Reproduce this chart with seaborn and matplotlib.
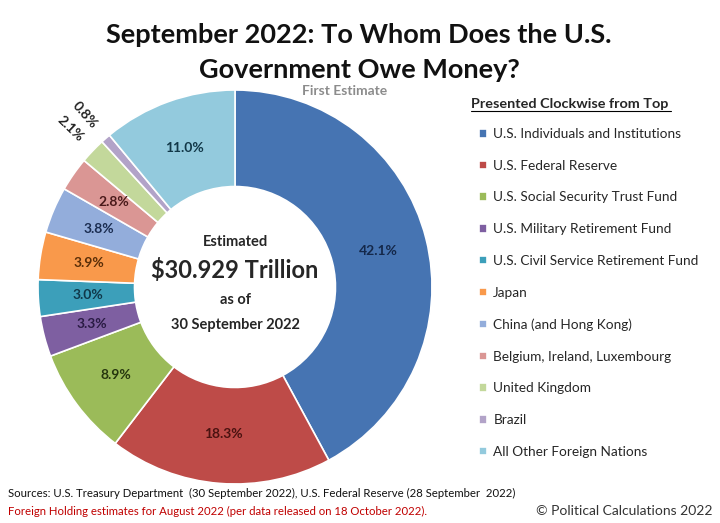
import matplotlib
matplotlib.use("Agg")
import matplotlib.pyplot as plt
from matplotlib.lines import Line2D
import numpy as np
import seaborn as sns

# Data (percent of total public debt)
holders = ["U.S. Individuals and Institutions", "U.S. Federal Reserve",
           "U.S. Social Security Trust Fund", "U.S. Military Retirement Fund",
           "U.S. Civil Service Retirement Fund", "Japan", "China (and Hong Kong)",
           "Belgium, Ireland, Luxembourg", "United Kingdom", "Brazil",
           "All Other Foreign Nations"]
shares = [42.1, 18.3, 8.9, 3.3, 3.0, 3.9, 3.8, 2.8, 2.1, 0.8, 11.0]
slice_colors = ["#4674B2", "#BE4B48", "#9BBB59", "#7E5FA1", "#3C9FBA", "#F9994B",
                "#93ADDB", "#DA9694", "#C3D89B", "#B2A3C8", "#93CADD"]
label_colors = ["#14284A", "#4A1210", "#26360E", "#2A1B44", "#10384A", "#5A2E08",
                "#1A2C50", "#4A1A1A", "#222222", "#222222", "#123848"]
outside = ["United Kingdom", "Brazil"]

sns.set_style("white")
plt.rcParams["font.family"] = ["Lato", "DejaVu Sans"]

fig = plt.figure(figsize=(7.2, 5.23), dpi=100)
W, H = 720, 523
cx, cy, R = 235, 287, 197
ax = fig.add_axes([(cx - R) / W, (H - cy - R) / H, 2 * R / W, 2 * R / H])

palette = sns.color_palette(slice_colors)
wedges, _ = ax.pie(shares, colors=palette, startangle=90, counterclock=False,
                   wedgeprops=dict(width=0.49, edgecolor="white", linewidth=1.2))
ax.set_xlim(-1, 1)
ax.set_ylim(-1, 1)
ax.set_aspect("equal")

for w, name, v, tc in zip(wedges, holders, shares, label_colors):
    mid = np.deg2rad((w.theta1 + w.theta2) / 2)
    if name in outside:
        r = 1.16
        rot = np.rad2deg(mid) - 180
    else:
        r = 0.75
        rot = 0
    ax.text(r * np.cos(mid), r * np.sin(mid), f"{v:.1f}%", ha="center", va="center",
            fontsize=10, fontweight="bold", color=tc, rotation=rot,
            rotation_mode="anchor")

# center text
ax.text(0, 0.23, "Estimated", ha="center", va="center", fontsize=10.5, fontweight="bold")
ax.text(0, 0.085, "$30.929 Trillion", ha="center", va="center", fontsize=17, fontweight="bold")
ax.text(0, -0.065, "as of", ha="center", va="center", fontsize=10.5, fontweight="bold")
ax.text(0, -0.195, "30 September 2022", ha="center", va="center", fontsize=10.5, fontweight="bold")

# titles
fig.text(359 / W, 1 - 35 / H, "September 2022: To Whom Does the U.S.", ha="center", va="center",
         fontsize=19.5, fontweight="bold", color="#111111")
fig.text(359 / W, 1 - 70 / H, "Government Owe Money?", ha="center", va="center",
         fontsize=19.5, fontweight="bold", color="#111111")
fig.text(345 / W, 1 - 91 / H, "First Estimate", ha="center", va="center",
         fontsize=10, fontweight="bold", color="#8C8C8C")

# legend
fig.text(471 / W, 1 - 104 / H, "Presented Clockwise from Top", ha="left", va="center",
         fontsize=10.4, fontweight="bold")
fig.add_artist(Line2D([471 / W, 671 / W], [1 - 111 / H, 1 - 111 / H], color="black", lw=0.8))
fig.legend(wedges, holders, loc="upper left", bbox_to_anchor=(479 / W, 1 - 128 / H),
           frameon=False, fontsize=9.8, labelspacing=1.45, handlelength=0.6,
           handleheight=0.6, handletextpad=0.45, borderaxespad=0, borderpad=0)

# footer
fig.text(8 / W, 1 - 493 / H, "Sources: U.S. Treasury Department  (30 September 2022), U.S. Federal Reserve (28 September  2022)",
         ha="left", va="center", fontsize=8.2, color="#111111")
fig.text(8 / W, 1 - 511 / H, "Foreign Holding estimates for August 2022 (per data released on 18 October 2022).",
         ha="left", va="center", fontsize=8.2, color="#C00000")
fig.text(712 / W, 1 - 511 / H, "\u00a9 Political Calculations 2022", ha="right", va="center",
         fontsize=10, color="#333333")

fig.savefig("out.png", dpi=100)
